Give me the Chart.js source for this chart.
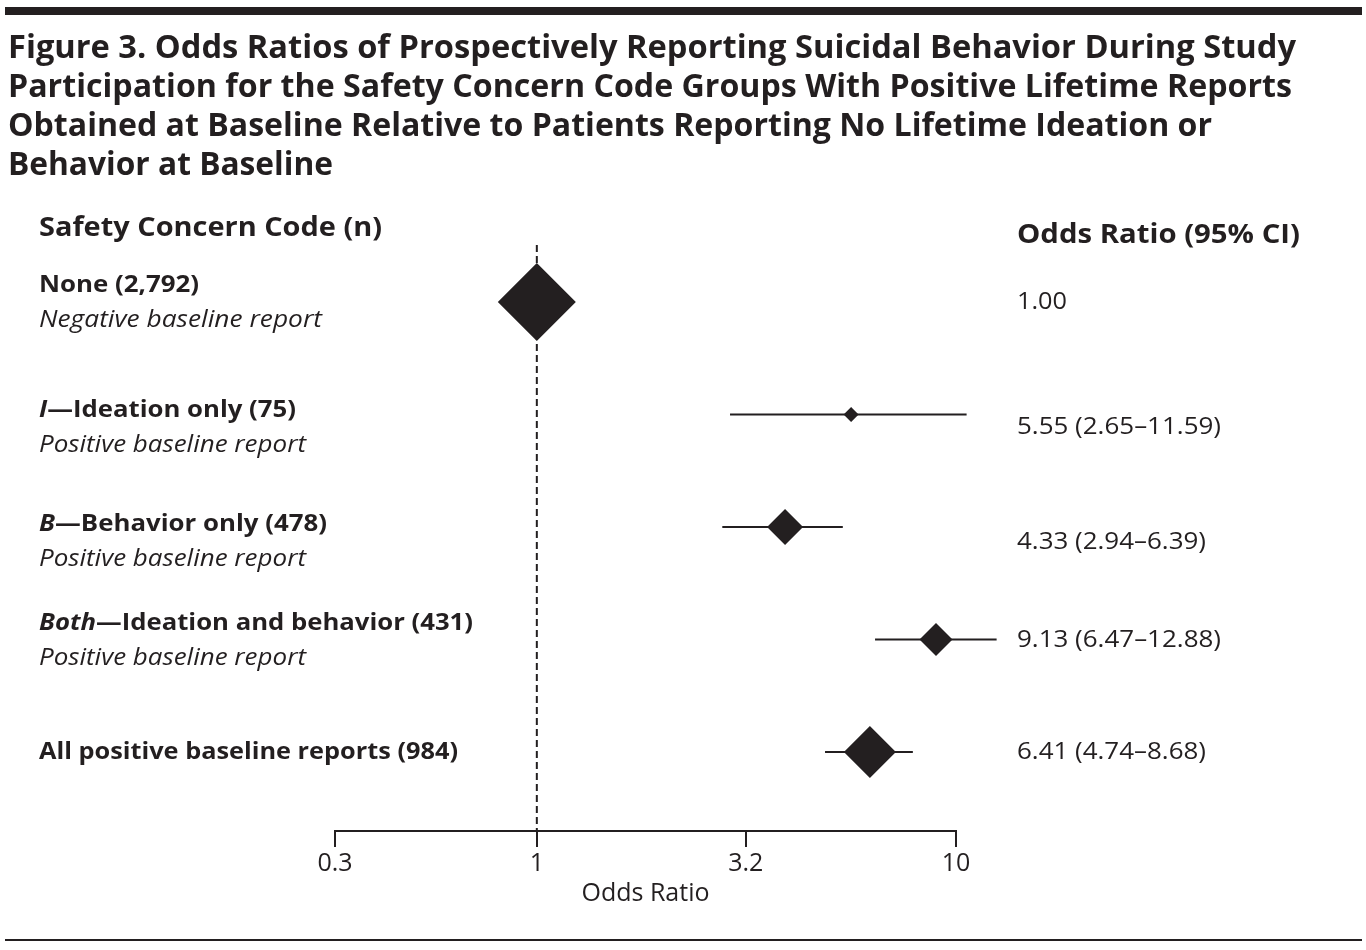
<!DOCTYPE html>
<html><head><meta charset="utf-8">
<script src="https://cdn.jsdelivr.net/npm/chart.js@4.4.1/dist/chart.umd.min.js"></script>
<style>
html,body{margin:0;padding:0;background:#fff;}
#wrap{position:relative;width:1366px;height:950px;overflow:hidden;font-family:"Open Sans","Noto Sans",sans-serif;color:#231f20;}
canvas{position:absolute;left:0;top:0;}
.t{position:absolute;white-space:nowrap;line-height:1;transform-origin:0 50%;}
.b{font-weight:700;}
.i{font-style:italic;}
.rule{position:absolute;background:#231f20;}
</style></head>
<body><div id="wrap">
<div class="rule" style="left:5px;top:7px;width:1357px;height:8px"></div>
<div class="rule" style="left:5px;top:939px;width:1357px;height:2px"></div>
<canvas id="c" width="1366" height="950" style="width:1366px;height:950px"></canvas>
</div>
<script>
// ---------- data ----------
const titleLines = [
  'Figure 3. Odds Ratios of Prospectively Reporting Suicidal Behavior During Study',
  'Participation for the Safety Concern Code Groups With Positive Lifetime Reports',
  'Obtained at Baseline Relative to Patients Reporting No Lifetime Ideation or',
  'Behavior at Baseline'
];
const leftHeader = 'Safety Concern Code (n)';
const rightHeader = 'Odds Ratio (95% CI)';
const rowCode = ['', 'I', 'B', 'Both', ''];
const rowName = ['None (2,792)', '\u2014Ideation only (75)', '\u2014Behavior only (478)', '\u2014Ideation and behavior (431)', 'All positive baseline reports (984)'];
const rowSub = ['Negative baseline report', 'Positive baseline report', 'Positive baseline report', 'Positive baseline report', ''];
const valueLabels = ['1.00', '5.55 (2.65\u201311.59)', '4.33 (2.94\u20136.39)', '9.13 (6.47\u201312.88)', '6.41 (4.74\u20138.68)'];
// plotted positions
const orPoint = [1.00, 5.62, 3.91, 8.96, 6.23];
const ciLow   = [null, 2.89, 2.77, 6.41, 4.87];
const ciHigh  = [null, 10.6, 5.37, 12.5, 7.89];
const tickValues = [0.33, 1, 3.15, 10];
const tickLabels = ['0.3', '1', '3.2', '10'];
const axisTitle = 'Odds Ratio';
const refValue = 1;

// ---------- styles / layout ----------
const INK = '#231f20';
const FAM = '"Open Sans","Noto Sans",sans-serif';
const markerRadius = [39, 7.5, 18, 16.5, 26];
const titleY = [46, 85, 124, 163];
const titleW = [1288, 1284, 1204, 325];
const nameY = [283, 408, 522, 621, 750];
const nameW = [160, 257, 288, 434, 419];
const subW = [283, 267, 267, 267, 0];
const valY = [300, 425, 540, 638, 750];
const valW = [50, 204, 189, 204, 189];

const wrap = document.getElementById('wrap');
function addText(html, cls, left, cy, size, targetW) {
  const d = document.createElement('div');
  d.className = 't ' + cls;
  d.style.fontSize = size + 'px';
  d.style.left = left + 'px';
  d.style.top = (cy - size / 2) + 'px';
  d.innerHTML = html;
  wrap.appendChild(d);
  const w = d.getBoundingClientRect().width;
  if (targetW && w > 0) d.style.transform = 'scaleX(' + (targetW / w) + ')';
}
titleLines.forEach((s, i) => addText(s, 'b', 8, titleY[i], 32, titleW[i]));
addText(leftHeader, 'b', 39, 226, 26, 343);
addText(rightHeader, 'b', 1017, 233, 26, 283);
rowName.forEach((s, i) => {
  const html = (rowCode[i] ? '<i>' + rowCode[i] + '</i>' : '') + s;
  addText(html, 'b', 39, nameY[i], 23, nameW[i]);
  if (rowSub[i]) addText(rowSub[i], 'i', 39, nameY[i] + 35, 23, subW[i]);
});
valueLabels.forEach((s, i) => addText(s, '', 1017, valY[i], 23, valW[i]));

// ---------- chart ----------
const datasets = [{
  data: orPoint.map((v, i) => ({x: v, y: i})),
  pointStyle: 'rectRot',
  pointRadius: markerRadius,
  pointHoverRadius: markerRadius,
  backgroundColor: INK,
  borderColor: INK,
  borderWidth: 0,
  showLine: false,
  order: 0,
  clip: false
}];
ciLow.forEach((lo, i) => {
  if (lo == null) return;
  datasets.push({
    data: [{x: lo, y: i}, {x: ciHigh[i], y: i}],
    showLine: true,
    borderColor: INK,
    borderWidth: 2,
    pointRadius: 0,
    order: 1,
    clip: false
  });
});

const refLine = {
  id: 'refLine',
  beforeDatasetsDraw(chart) {
    const {ctx, chartArea: a, scales: {x}} = chart;
    const px = x.getPixelForValue(refValue);
    ctx.save();
    ctx.strokeStyle = INK;
    ctx.lineWidth = 2;
    ctx.setLineDash([7, 4]);
    ctx.beginPath();
    ctx.moveTo(px, a.top);
    ctx.lineTo(px, a.bottom);
    ctx.stroke();
    ctx.restore();
  }
};

const axisMin = tickValues[0];
const axisMax = tickValues[tickValues.length - 1];

new Chart(document.getElementById('c'), {
  type: 'scatter',
  data: {datasets},
  plugins: [refLine],
  options: {
    responsive: false,
    animation: false,
    events: [],
    layout: {padding: {left: 335, right: 410, top: 245, bottom: 29}},
    plugins: {legend: {display: false}, tooltip: {enabled: false}, title: {display: false}},
    scales: {
      x: {
        type: 'logarithmic',
        position: 'bottom',
        bounds: 'data',
        min: axisMin,
        max: axisMax,
        afterBuildTicks: s => {
          s.ticks = tickValues.map(v => ({value: v}));
          s.min = axisMin;
          s.max = axisMax;
        },
        afterFit: s => { s.height = 90; },
        ticks: {
          callback: (v, i) => tickLabels[i],
          autoSkip: false, maxRotation: 0, minRotation: 0,
          color: INK, font: {family: FAM, size: 25}, padding: 2
        },
        grid: {drawOnChartArea: false, drawTicks: true, tickLength: 16, color: INK, lineWidth: 2, tickColor: INK, tickWidth: 2},
        border: {display: true, color: INK, width: 2},
        title: {display: true, text: axisTitle, color: INK, font: {family: FAM, size: 25}, padding: {top: 0, bottom: 12}}
      },
      y: {type: 'linear', reverse: true, min: -0.507, max: 4.702, display: false}
    }
  }
});
</script>
</body></html>
